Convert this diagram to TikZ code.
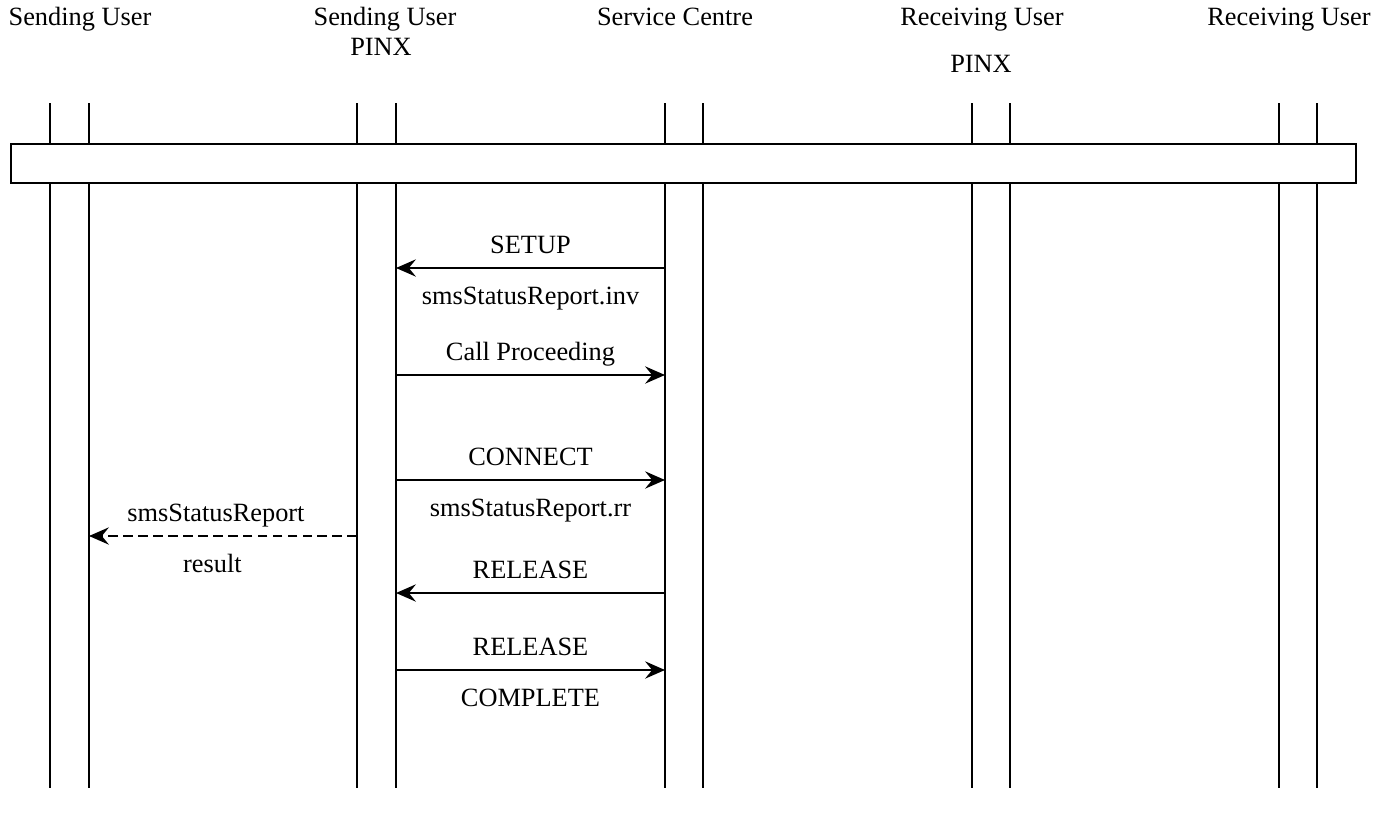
\documentclass[tikz,border=0pt]{standalone}
\usepackage{fontspec}
\setmainfont{Liberation Serif}
\usepackage{tikz}
\usetikzlibrary{positioning, arrows.meta}
\tikzstyle{life}=[line width=1.3pt]
\tikzstyle{msg}=[line width=1.3pt, -{Stealth[length=11.3pt, width=9.8pt, inset=4pt]}]
\tikzstyle{ttl}=[inner sep=0pt, font=\fontsize{15}{18}\selectfont, text height=10.5pt, text depth=3.2pt]
\tikzstyle{lbl}=[inner sep=0pt, font=\fontsize{15}{18}\selectfont, text height=10.5pt, text depth=3.2pt]
\tikzstyle{bar}=[draw, fill=white, line width=1.3pt, minimum width=26.9cm, minimum height=0.78cm, inner sep=0pt]
\tikzset{>=stealth}

\begin{document}
\begin{tikzpicture}[x=0.02cm, y=-0.02cm]
\useasboundingbox (0,0) rectangle (1390,818);
\foreach \j/\x in {1/50, 2/89, 3/357, 4/396, 5/665, 6/703, 7/972, 8/1010, 9/1279, 10/1317}
{
\coordinate (u\j) at (\x, 103);
\coordinate (d\j) at (\x, 788);
\draw[life] (u\j) -- (d\j);
}
\node[bar] (bar) at (683.5, 163.5) {};

\node[ttl] (tSend) at (80, 19) {Sending User};
\node[ttl] (tSendP) at (385, 19) {Sending User};
\node[ttl] (tSendPx) at (381, 49) {PINX};
\node[ttl] (tSC) at (675, 19) {Service Centre};
\node[ttl] (tRecvP) at (982, 19) {Receiving User};
\node[ttl] (tRecvPx) at (981, 66) {PINX};
\node[ttl] (tRecv) at (1289, 19) {Receiving User};

\foreach \n/\y in {setup/268, callp/375, conn/480, relA/593, relB/670}
{
\coordinate (\n L) at (396, \y);
\coordinate (\n R) at (665, \y);
}
\coordinate (resL) at (89, 536);
\coordinate (resR) at (357, 536);

\draw[msg] (setupR) -- node[lbl, above=4.5pt] {SETUP} node[lbl, below=9.5pt] {smsStatusReport.inv} (setupL);
\draw[msg] (callpL) -- node[lbl, above=4.5pt] {Call Proceeding} (callpR);
\draw[msg] (connL) -- node[lbl, above=4.5pt] {CONNECT} node[lbl, below=9.5pt] {smsStatusReport.rr} (connR);
\draw[msg, dash pattern=on 5.5pt off 3pt] (resR) -- node[lbl, above=4.5pt, xshift=-4] {smsStatusReport} node[lbl, below=9.5pt, xshift=-6] {result} (resL);
\draw[msg] (relAR) -- node[lbl, above=4.5pt] {RELEASE} (relAL);
\draw[msg] (relBL) -- node[lbl, above=4.5pt] {RELEASE} node[lbl, below=9.5pt] {COMPLETE} (relBR);
\end{tikzpicture}
\end{document}
